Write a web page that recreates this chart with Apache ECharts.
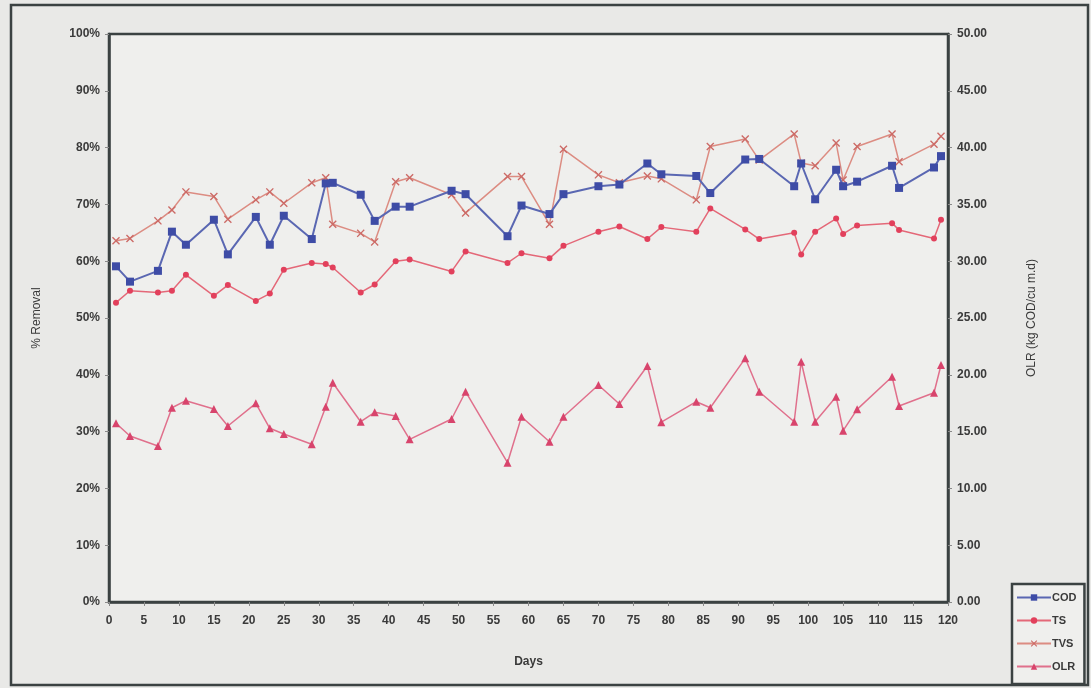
<!DOCTYPE html>
<html>
<head>
<meta charset="utf-8">
<script src="https://cdn.jsdelivr.net/npm/echarts@6/dist/echarts.min.js"></script>
<style>
  html, body { margin: 0; padding: 0; background: #e9e9e7; }
  #chart { width: 1091px; height: 688px; }
</style>
</head>
<body>
<div id="chart"></div>
<script>
// Sampling days
const days = [1, 3, 7, 9, 11, 15, 17, 21, 23, 25, 29, 31, 32, 36, 38, 41, 43, 49, 51, 57, 59,
  63, 65, 70, 73, 77, 79, 84, 86, 91, 93, 98, 99, 101, 104, 105, 107, 112, 113, 118, 119];

// Removal efficiencies (%)
const cod = [59.1, 56.4, 58.3, 65.2, 62.9, 67.3, 61.2, 67.8, 62.9, 68.0, 63.9, 73.7, 73.8, 71.7, 67.1,
  69.6, 69.6, 72.4, 71.8, 64.4, 69.8, 68.3, 71.8, 73.2, 73.5, 77.2, 75.3, 75.0, 72.0, 77.9, 78.0,
  73.2, 77.2, 70.9, 76.1, 73.2, 74.0, 76.8, 72.9, 76.5, 78.5];
const ts = [52.7, 54.8, 54.5, 54.8, 57.6, 53.9, 55.8, 53.0, 54.3, 58.5, 59.7, 59.5, 58.9, 54.5, 55.9,
  60.0, 60.3, 58.2, 61.7, 59.7, 61.4, 60.5, 62.7, 65.2, 66.1, 63.9, 66.0, 65.2, 69.3, 65.6, 63.9,
  65.0, 61.2, 65.2, 67.5, 64.8, 66.3, 66.7, 65.5, 64.0, 67.3];
const tvs = [63.6, 64.0, 67.1, 69.0, 72.2, 71.4, 67.4, 70.8, 72.2, 70.2, 73.8, 74.7, 66.5, 64.9, 63.4,
  74.0, 74.7, 71.7, 68.5, 74.9, 74.9, 66.5, 79.7, 75.2, 73.8, 75.0, 74.5, 70.8, 80.2, 81.5, 77.8,
  82.4, 77.3, 76.8, 80.8, 74.3, 80.2, 82.4, 77.5, 80.6, 82.0];

// Organic loading rate (kg COD/cu m.d)
const olr = [15.73, 14.61, 13.73, 17.10, 17.72, 16.99, 15.49, 17.49, 15.29, 14.79, 13.88, 17.19, 19.30,
  15.87, 16.70, 16.37, 14.32, 16.11, 18.51, 12.26, 16.31, 14.11, 16.31, 19.10, 17.43, 20.77, 15.83,
  17.63, 17.10, 21.45, 18.51, 15.87, 21.15, 15.87, 18.07, 15.08, 16.96, 19.83, 17.25, 18.42, 20.86];

const seriesNames = ['COD', 'TS', 'TVS', 'OLR'];

const pairs = vals => days.map((d, i) => [d, vals[i]]);

const xMark = 'path://M0,1.2L1.2,0L5,3.8L8.8,0L10,1.2L6.2,5L10,8.8L8.8,10L5,6.2L1.2,10L0,8.8L3.8,5Z';

const axisFont = { fontFamily: 'Liberation Sans', fontWeight: 'bold', fontSize: 12, color: '#3a3a3a' };
const axisLineStyle = { show: true, lineStyle: { color: '#3b4242', width: 2.5 } };
const tickStyle = { show: true, length: 4, lineStyle: { color: '#8a8a8a', width: 1 } };

const chart = echarts.init(document.getElementById('chart'));
chart.setOption({
  backgroundColor: '#e9e9e7',
  animation: false,
  textStyle: { fontFamily: 'Liberation Sans' },
  graphic: [{
    type: 'rect',
    shape: { x: 11, y: 5, width: 1077, height: 680 },
    style: { fill: 'none', stroke: '#3b4242', lineWidth: 2.5 },
    z: -1
  }],
  grid: {
    left: 109, right: 143, top: 34, bottom: 86,
    show: true, backgroundColor: '#efefed',
    borderColor: '#3b4242', borderWidth: 2.5
  },
  legend: {
    orient: 'vertical',
    left: 1012, top: 584,
    padding: [8, 8, 12, 4],
    itemGap: 12,
    itemWidth: 34, itemHeight: 8,
    backgroundColor: '#efefed',
    borderColor: '#3b4242', borderWidth: 2.5,
    textStyle: { fontFamily: 'Liberation Sans', fontWeight: 'bold', fontSize: 11, color: '#3a3a3a', padding: [0, 0, 0, -4] },
    data: seriesNames
  },
  xAxis: {
    type: 'value',
    min: 0, max: 120, interval: 5,
    name: 'Days',
    nameLocation: 'middle',
    nameGap: 54,
    nameTextStyle: axisFont,
    axisLine: axisLineStyle,
    axisTick: tickStyle,
    axisLabel: Object.assign({ margin: 13 }, axisFont),
    splitLine: { show: false }
  },
  yAxis: [{
    type: 'value',
    min: 0, max: 100, interval: 10,
    name: '% Removal',
    nameLocation: 'middle',
    nameGap: 66,
    nameTextStyle: Object.assign({}, axisFont, { fontWeight: 'normal', fontSize: 12 }),
    axisLine: axisLineStyle,
    axisTick: tickStyle,
    axisLabel: Object.assign({ margin: 9, formatter: '{value}%' }, axisFont),
    splitLine: { show: false }
  }, {
    type: 'value',
    min: 0, max: 50, interval: 5,
    name: 'OLR (kg COD/cu m.d)',
    nameLocation: 'middle',
    nameGap: 78,
    nameRotate: 90,
    nameTextStyle: Object.assign({}, axisFont, { fontWeight: 'normal', fontSize: 12 }),
    axisLine: axisLineStyle,
    axisTick: tickStyle,
    axisLabel: Object.assign({ margin: 9, formatter: v => v.toFixed(2) }, axisFont),
    splitLine: { show: false }
  }],
  series: [{
    name: 'COD', type: 'line', yAxisIndex: 0,
    data: pairs(cod),
    symbol: 'rect', symbolSize: 8,
    lineStyle: { color: '#5a67b2', width: 2 },
    itemStyle: { color: '#3e4ca6' },
    z: 4
  }, {
    name: 'TS', type: 'line', yAxisIndex: 0,
    data: pairs(ts),
    symbol: 'circle', symbolSize: 6,
    lineStyle: { color: '#e46878', width: 1.5 },
    itemStyle: { color: '#e2405c' },
    z: 3
  }, {
    name: 'TVS', type: 'line', yAxisIndex: 0,
    data: pairs(tvs),
    symbol: xMark, symbolSize: 8,
    lineStyle: { color: '#dc8c82', width: 1.5 },
    itemStyle: { color: '#cc6a66' },
    z: 3
  }, {
    name: 'OLR', type: 'line', yAxisIndex: 1,
    data: pairs(olr),
    symbol: 'triangle', symbolSize: 8,
    lineStyle: { color: '#e0708c', width: 1.5 },
    itemStyle: { color: '#d8446c' },
    z: 3
  }]
});
</script>
</body>
</html>
